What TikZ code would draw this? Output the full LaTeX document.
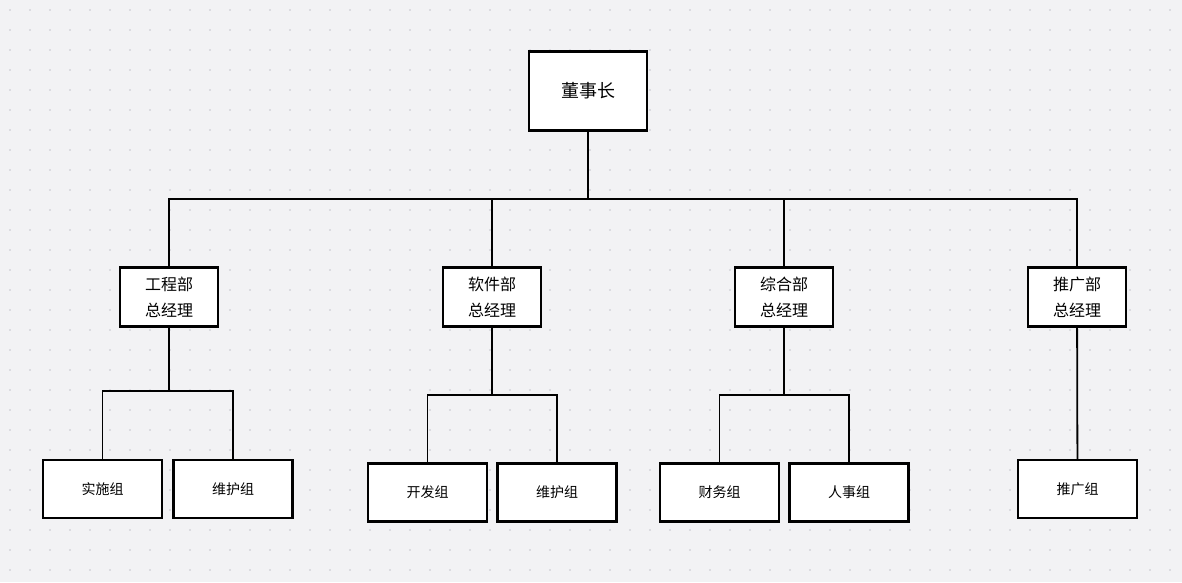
\documentclass[tikz,border=0pt]{standalone}
\usepackage{fontspec}
\setmainfont{Noto Sans CJK SC}
\definecolor{bgc}{HTML}{F2F2F4}
\definecolor{dotc}{HTML}{C4C4CC}
\tikzset{
  box/.style={draw,line width=2.2pt,fill=white,inner sep=0pt,align=center},
  topbox/.style={box,minimum width=118pt,minimum height=79pt,font=\fontsize{18}{21}\selectfont},
  midbox/.style={box,minimum width=98pt,minimum height=59pt,font=\fontsize{16}{26}\selectfont},
  leafbox/.style={box,minimum width=119pt,minimum height=58pt,font=\fontsize{14}{17}\selectfont},
  wire/.style={line width=1.8pt}
}
\begin{document}
\begin{tikzpicture}[x=1pt,y=-1pt]
        \fill[bgc] (0,0) rectangle (1182,582);
        \useasboundingbox (0,0) rectangle (1182,582);
        \foreach \i in {0,...,58}
          \foreach \j in {0,...,28}
            \fill[dotc] (10+20*\i,10+20*\j) circle (0.9pt);

        \node[topbox]  (chair) at (588,91) {董事长};
        \node[midbox]  (eng)   at (169,297) {工程部\\总经理};
        \node[midbox]  (soft)  at (492,297) {软件部\\总经理};
        \node[midbox]  (gen)   at (784,297) {综合部\\总经理};
        \node[midbox]  (pro)   at (1077,297) {推广部\\总经理};

        \node[leafbox] (impl)  at (102.5,489) {实施组};
        \node[leafbox] (maintA) at (233,489) {维护组};
        \node[leafbox] (dev)   at (427.5,492.5) {开发组};
        \node[leafbox] (maintB) at (557,492.5) {维护组};
        \node[leafbox] (fin)   at (719.5,492.5) {财务组};
        \node[leafbox] (hr)    at (849,492.5) {人事组};
        \node[leafbox] (prog)  at (1077.5,489) {推广组};

        % top level
        \coordinate (busT) at (588,199);
        \draw[line width=2.4pt] (chair) -- (busT);
        \draw[wire] (eng.north) |- (busT) -| (pro.north);
        \draw[wire] (soft.north) -- (soft.north |- busT);
        \draw[wire] (gen.north) -- (gen.north |- busT);

        % departments
        \coordinate (busE) at (169,391);
        \coordinate (busS) at (492,395);
        \coordinate (busG) at (784,395);
        \draw[line width=2.2pt] (eng) -- (busE);
        \draw[wire] (impl.north) |- (busE) -| (maintA.north);
        \draw[line width=2.2pt] (soft) -- (busS);
        \draw[wire] (dev.north) |- (busS) -| (maintB.north);
        \draw[line width=2.2pt] (gen) -- (busG);
        \draw[wire] (fin.north) |- (busG) -| (hr.north);
        \draw[wire] (pro) -- (prog);
\end{tikzpicture}
\end{document}
